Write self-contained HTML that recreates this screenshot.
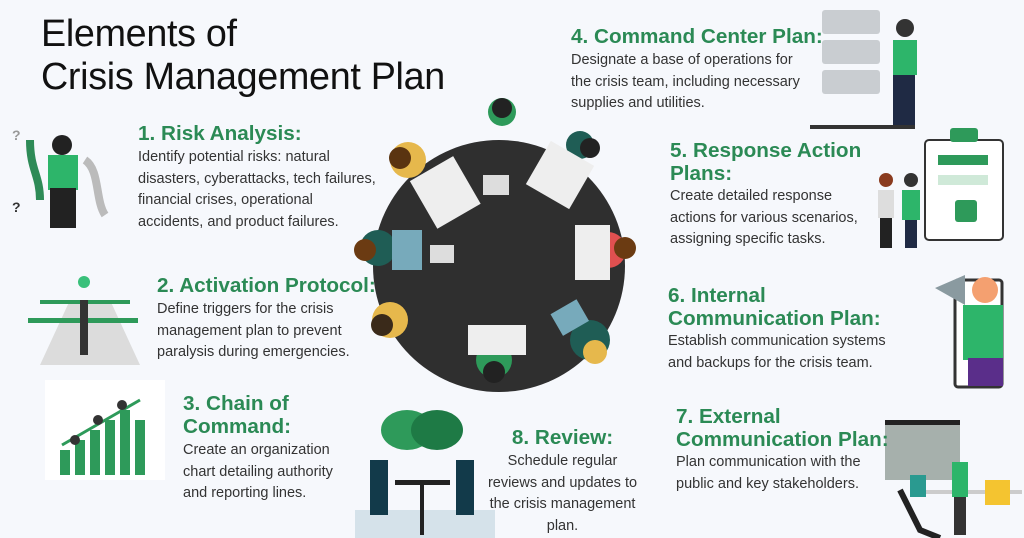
<!DOCTYPE html>
<html><head><meta charset="utf-8"><style>
body{margin:0;width:1024px;height:538px;background:#f6f8fc;position:relative;overflow:hidden;font-family:"Liberation Sans",Arial,sans-serif}
.t{position:absolute;left:41px;top:12px;font-size:37.7px;line-height:43px;color:#111;letter-spacing:-0.3px}
.h{position:absolute;color:#2b8a55;font-size:20.7px;line-height:23px;font-weight:bold}
.b{position:absolute;color:#333;font-size:14.5px;line-height:21.5px}
svg{position:absolute;left:0;top:0}
</style></head><body>
<svg width="1024" height="538">
<g>
<circle cx="499" cy="266" r="126" fill="#2f2f2f"/>
<g stroke="none">
<circle cx="502" cy="112" r="14" fill="#2e9a5a"/><circle cx="502" cy="108" r="10" fill="#222"/>
<circle cx="580" cy="145" r="14" fill="#1f5d55"/><circle cx="590" cy="148" r="10" fill="#222"/>
<circle cx="408" cy="160" r="18" fill="#e6b84c"/><circle cx="400" cy="158" r="11" fill="#5a3410"/>
<circle cx="378" cy="248" r="18" fill="#1f5d55"/><circle cx="365" cy="250" r="11" fill="#6b3b12"/>
<circle cx="608" cy="250" r="18" fill="#e05050"/><circle cx="625" cy="248" r="11" fill="#6b3b12"/>
<circle cx="390" cy="320" r="18" fill="#e6b84c"/><circle cx="382" cy="325" r="11" fill="#3a2a1a"/>
<circle cx="590" cy="340" r="20" fill="#1f5d55"/><circle cx="595" cy="352" r="12" fill="#e6b84c"/>
<circle cx="494" cy="360" r="18" fill="#2e9a5a"/><circle cx="494" cy="372" r="11" fill="#222"/>
</g>
<rect x="420" y="165" width="50" height="55" fill="#eee" transform="rotate(-30 445 192)"/>
<rect x="535" y="150" width="50" height="50" fill="#eee" transform="rotate(30 560 175)"/>
<rect x="575" y="225" width="35" height="55" fill="#eee"/>
<rect x="468" y="325" width="58" height="30" fill="#eee"/>
<rect x="392" y="230" width="30" height="40" fill="#7ab"/>
<rect x="555" y="305" width="30" height="25" fill="#7ab" transform="rotate(-30 570 318)"/>
<rect x="483" y="175" width="26" height="20" fill="#ddd"/>
<rect x="430" y="245" width="24" height="18" fill="#ddd"/>
</g>
<g>
<path d="M30 140 C30 170 40 175 40 200" stroke="#2e8b57" stroke-width="8" fill="none"/>
<path d="M85 160 C100 170 95 200 105 215" stroke="#bbb" stroke-width="8" fill="none"/>
<rect x="48" y="155" width="30" height="35" fill="#2db56a"/>
<circle cx="62" cy="145" r="10" fill="#222"/>
<rect x="50" y="188" width="26" height="40" fill="#222"/>
<text x="12" y="140" fill="#999" font-size="14" font-weight="bold">?</text>
<text x="12" y="212" fill="#333" font-size="14" font-weight="bold">?</text>
</g>
<g>
<polygon points="40,365 140,365 110,300 70,300" fill="#dcdcdc"/>
<rect x="28" y="318" width="110" height="5" fill="#2e9a5a"/>
<rect x="40" y="300" width="90" height="4" fill="#2e9a5a"/>
<rect x="80" y="300" width="8" height="55" fill="#333"/>
<circle cx="84" cy="282" r="6" fill="#39c07a"/>
</g>
<g>
<rect x="45" y="380" width="120" height="100" fill="#fff"/>
<rect x="60" y="450" width="10" height="25" fill="#2e9a5a"/><rect x="75" y="440" width="10" height="35" fill="#2e9a5a"/>
<rect x="90" y="430" width="10" height="45" fill="#2e9a5a"/><rect x="105" y="420" width="10" height="55" fill="#2e9a5a"/>
<rect x="120" y="410" width="10" height="65" fill="#2e9a5a"/><rect x="135" y="420" width="10" height="55" fill="#2e9a5a"/>
<path d="M62 445 L140 400" stroke="#2e9a5a" stroke-width="3"/>
<circle cx="75" cy="440" r="5" fill="#333"/><circle cx="98" cy="420" r="5" fill="#333"/><circle cx="122" cy="405" r="5" fill="#333"/>
</g>
<g>
<ellipse cx="407" cy="430" rx="26" ry="20" fill="#2e9a5a"/>
<ellipse cx="437" cy="430" rx="26" ry="20" fill="#1e7a45"/>
<rect x="355" y="510" width="140" height="28" fill="#d5e2ea"/>
<rect x="370" y="460" width="18" height="55" fill="#123a4a"/>
<rect x="456" y="460" width="18" height="55" fill="#123a4a"/>
<rect x="395" y="480" width="55" height="5" fill="#222"/>
<rect x="420" y="480" width="4" height="55" fill="#222"/>
</g>
<g>
<rect x="822" y="10" width="58" height="24" rx="3" fill="#c9cdd1"/>
<rect x="822" y="40" width="58" height="24" rx="3" fill="#c9cdd1"/>
<rect x="822" y="70" width="58" height="24" rx="3" fill="#c9cdd1"/>
<rect x="810" y="125" width="105" height="4" fill="#333"/>
<rect x="893" y="40" width="24" height="35" fill="#2db56a"/>
<rect x="893" y="75" width="22" height="50" fill="#1f2a44"/>
<circle cx="905" cy="28" r="9" fill="#333"/>
</g>
<g>
<rect x="925" y="140" width="78" height="100" rx="4" fill="#fff" stroke="#333" stroke-width="2"/>
<rect x="950" y="128" width="28" height="14" rx="3" fill="#2e9a5a"/>
<rect x="938" y="155" width="50" height="10" fill="#2e9a5a"/>
<rect x="938" y="175" width="50" height="10" fill="#cfe9d8"/>
<rect x="955" y="200" width="22" height="22" rx="3" fill="#2e9a5a"/>
<rect x="902" y="190" width="18" height="30" fill="#2db56a"/><rect x="905" y="220" width="12" height="28" fill="#1f2a44"/>
<rect x="878" y="190" width="16" height="28" fill="#ddd"/><rect x="880" y="218" width="12" height="30" fill="#222"/>
<circle cx="911" cy="180" r="7" fill="#333"/><circle cx="886" cy="180" r="7" fill="#8a3b1e"/>
</g>
<g>
<rect x="955" y="280" width="47" height="107" rx="3" fill="#fff" stroke="#333" stroke-width="3"/>
<rect x="963" y="305" width="40" height="55" fill="#2db56a"/>
<rect x="968" y="358" width="35" height="28" fill="#5a2e8a"/>
<circle cx="985" cy="290" r="13" fill="#f4a070"/>
<polygon points="935,288 965,275 965,305" fill="#8a9aa0"/>
</g>
<g>
<rect x="885" y="420" width="75" height="6" fill="#222"/>
<rect x="885" y="425" width="75" height="55" fill="#a6b0ac"/>
<rect x="922" y="490" width="100" height="4" fill="#ccc"/>
<rect x="952" y="462" width="16" height="35" fill="#2db56a"/><rect x="954" y="497" width="12" height="38" fill="#333"/>
<rect x="985" y="480" width="25" height="25" fill="#f4c430"/>
<rect x="910" y="475" width="16" height="22" fill="#2a9a90"/>
<path d="M900 490 L920 530 L940 538" stroke="#222" stroke-width="6" fill="none"/>
</g>
</svg>

<div class="t">Elements of<br>Crisis Management Plan</div>

<div class="h" style="left:138px;top:122px">1. Risk Analysis:</div>
<div class="b" style="left:138px;top:147px">Identify potential risks: natural<br>disasters, cyberattacks, tech failures,<br>financial crises, operational<br>accidents, and product failures.</div>

<div class="h" style="left:157px;top:274px">2. Activation Protocol:</div>
<div class="b" style="left:157px;top:299px">Define triggers for the crisis<br>management plan to prevent<br>paralysis during emergencies.</div>

<div class="h" style="left:183px;top:392px">3. Chain of<br>Command:</div>
<div class="b" style="left:183px;top:440px">Create an organization<br>chart detailing authority<br>and reporting lines.</div>

<div class="h" style="left:571px;top:25px">4. Command Center Plan:</div>
<div class="b" style="left:571px;top:50px">Designate a base of operations for<br>the crisis team, including necessary<br>supplies and utilities.</div>

<div class="h" style="left:670px;top:139px">5. Response Action<br>Plans:</div>
<div class="b" style="left:670px;top:186px">Create detailed response<br>actions for various scenarios,<br>assigning specific tasks.</div>

<div class="h" style="left:668px;top:284px">6. Internal<br>Communication Plan:</div>
<div class="b" style="left:668px;top:331px">Establish communication systems<br>and backups for the crisis team.</div>

<div class="h" style="left:676px;top:405px">7. External<br>Communication Plan:</div>
<div class="b" style="left:676px;top:452px">Plan communication with the<br>public and key stakeholders.</div>

<div class="h" style="left:480px;top:426px;width:165px;text-align:center">8. Review:</div>
<div class="b" style="left:480px;top:451px;width:165px;text-align:center">Schedule regular<br>reviews and updates to<br>the crisis management<br>plan.</div>
</body></html>
